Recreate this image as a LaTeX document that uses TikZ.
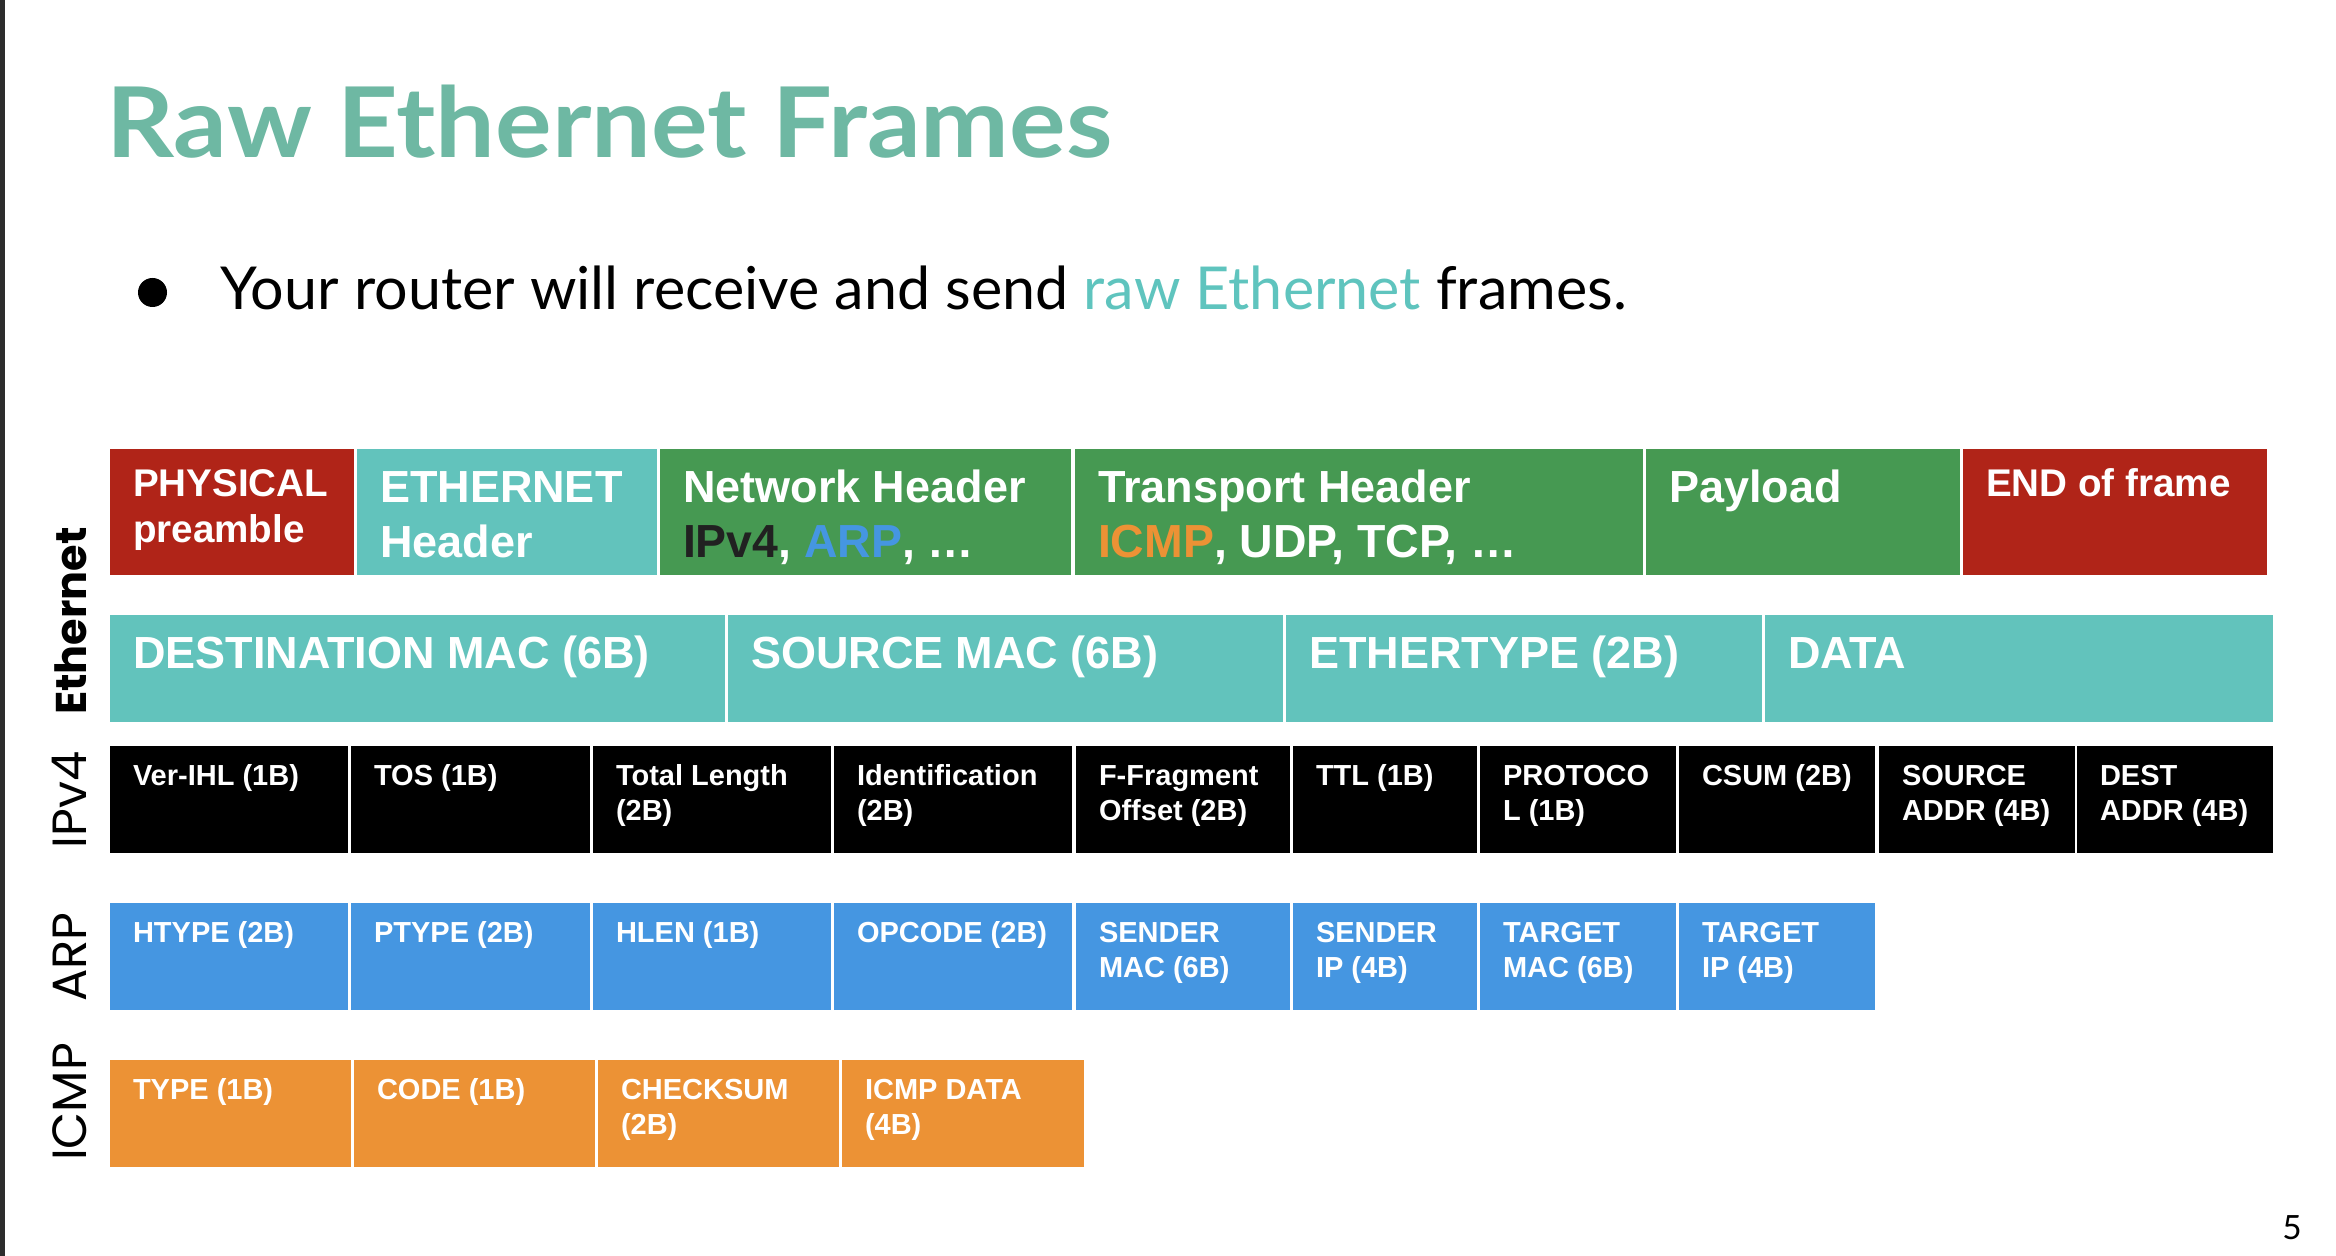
\documentclass[tikz,border=0pt]{standalone}
\usepackage{fontspec}
\setmainfont{Lato}
\newfontfamily\titlefont[FakeStretch=1.085]{Lato}
\newfontfamily\fieldfont{Liberation Sans}
\newfontfamily\sidefont{Poppins}

\definecolor{titleteal}{RGB}{110,184,163}
\definecolor{linkteal}{RGB}{95,196,190}
\definecolor{fred}{RGB}{176,36,24}
\definecolor{fteal}{RGB}{98,195,188}
\definecolor{fgreen}{RGB}{70,153,82}
\definecolor{fblue}{RGB}{69,150,225}
\definecolor{forange}{RGB}{236,146,53}
\definecolor{ipvdark}{RGB}{33,33,33}
\definecolor{edgegray}{RGB}{45,45,45}

% one coloured field of a frame row: name, x1, y1, x2, y2, fill
\newcommand\field[6]{%
  \node[field, fill=#6, minimum width={(#4-#2)*0.5pt}, minimum height={(#5-#3)*0.5pt}] (#1) at (#2,#3) {};}
% its label, set from the top left corner: field name, style, text
\newcommand\ftext[3]{%
  \node[#2] (#1-t) at (#1.north west) {\parbox[t]{300pt}{\raggedright #3}};}
% slightly larger protocol list line
\newcommand\protoline{\fontsize{23.2pt}{27.5pt}\selectfont}

\begin{document}
\begin{tikzpicture}[x=0.5pt, y=-0.5pt,
  field/.style={inner sep=0pt, outer sep=0pt, anchor=north west, draw=none},
  flabel/.style={inner sep=0pt, outer sep=0pt, anchor=base west, text=white, xshift=11.5pt},
  big/.style={flabel, font=\fieldfont\bfseries\fontsize{22.5pt}{27.5pt}\selectfont, yshift=-27pt},
  mid/.style={flabel, font=\fieldfont\bfseries\fontsize{19.3pt}{23pt}\selectfont, yshift=-24pt},
  small/.style={flabel, font=\fieldfont\bfseries\fontsize{14.5pt}{17.5pt}\selectfont, yshift=-19.5pt},
  side/.style={inner sep=0pt, rotate=90, anchor=base, font=\sidefont\fontsize{24pt}{28pt}\selectfont}
]
\useasboundingbox (0,0) rectangle (2336,1256);
\fill[white] (0,0) rectangle (2336,1256);
\fill[edgegray] (0,0) rectangle (5,1256);

% heading and bullet line
\node[inner sep=0pt, anchor=base west, text=titleteal,
      font=\titlefont\bfseries\fontsize{48.8pt}{58pt}\selectfont] (title) at (106,158) {Raw Ethernet Frames};
\node[circle, fill=black, inner sep=0pt, minimum size=14.5pt] (bullet) at (152.5,292.5) {};
\node[inner sep=0pt, anchor=base west, font=\fontsize{29.6pt}{35pt}\selectfont] (point) at (220,310)
  {Your router will receive and send {\color{linkteal}raw Ethernet} frames.};

% layer names along the left edge
\node[side, font=\sidefont\bfseries\fontsize{21.5pt}{26pt}\selectfont] (l-eth) at (86,621) {Ethernet};
\node[side] (l-ip) at (86,800) {IPv4};
\node[side] (l-arp) at (86,957) {ARP};
\node[side] (l-icmp) at (86,1102) {ICMP};

% whole frame
\field{phy}{110}{449}{354}{575}{fred}
\field{ethh}{357}{449}{657}{575}{fteal}
\field{neth}{660}{449}{1071}{575}{fgreen}
\field{trh}{1075}{449}{1643}{575}{fgreen}
\field{pay}{1646}{449}{1960}{575}{fgreen}
\field{eof}{1963}{449}{2267}{575}{fred}
\ftext{phy}{mid}{PHYSICAL\\preamble}
\ftext{ethh}{big}{ETHERNET\\Header}
\ftext{neth}{big}{Network Header\\\protoline{\color{ipvdark}IPv4}, {\color{fblue}ARP}, …}
\ftext{trh}{big}{Transport Header\\\protoline{\color{forange}ICMP}, UDP, TCP, …}
\ftext{pay}{big}{Payload}
\ftext{eof}{mid}{END of frame}

% Ethernet header
\field{dmac}{110}{615}{725}{722}{fteal}
\field{smac}{728}{615}{1283}{722}{fteal}
\field{etype}{1286}{615}{1762}{722}{fteal}
\field{data}{1765}{615}{2273}{722}{fteal}
\ftext{dmac}{big}{DESTINATION MAC (6B)}
\ftext{smac}{big}{SOURCE MAC (6B)}
\ftext{etype}{big}{ETHERTYPE (2B)}
\ftext{data}{big}{DATA}

% IPv4 header
\field{ver}{110}{746}{348}{853}{black}
\field{tos}{351}{746}{590}{853}{black}
\field{tlen}{593}{746}{831}{853}{black}
\field{ident}{834}{746}{1072}{853}{black}
\field{frag}{1076}{746}{1290}{853}{black}
\field{ttl}{1293}{746}{1477}{853}{black}
\field{proto}{1480}{746}{1676}{853}{black}
\field{csum}{1679}{746}{1875}{853}{black}
\field{saddr}{1879}{746}{2075}{853}{black}
\field{daddr}{2077}{746}{2273}{853}{black}
\ftext{ver}{small}{Ver-IHL (1B)}
\ftext{tos}{small}{TOS (1B)}
\ftext{tlen}{small}{Total Length\\(2B)}
\ftext{ident}{small}{Identification\\(2B)}
\ftext{frag}{small}{F-Fragment\\Offset (2B)}
\ftext{ttl}{small}{TTL (1B)}
\ftext{proto}{small}{PROTOCO\\L (1B)}
\ftext{csum}{small}{CSUM (2B)}
\ftext{saddr}{small}{SOURCE\\ADDR (4B)}
\ftext{daddr}{small}{DEST\\ADDR (4B)}

% ARP message
\field{htype}{110}{903}{348}{1010}{fblue}
\field{ptype}{351}{903}{590}{1010}{fblue}
\field{hlen}{593}{903}{831}{1010}{fblue}
\field{opcode}{834}{903}{1072}{1010}{fblue}
\field{smacarp}{1076}{903}{1290}{1010}{fblue}
\field{sip}{1293}{903}{1477}{1010}{fblue}
\field{tmac}{1480}{903}{1676}{1010}{fblue}
\field{tip}{1679}{903}{1875}{1010}{fblue}
\ftext{htype}{small}{HTYPE (2B)}
\ftext{ptype}{small}{PTYPE (2B)}
\ftext{hlen}{small}{HLEN (1B)}
\ftext{opcode}{small}{OPCODE (2B)}
\ftext{smacarp}{small}{SENDER\\MAC (6B)}
\ftext{sip}{small}{SENDER\\IP (4B)}
\ftext{tmac}{small}{TARGET\\MAC (6B)}
\ftext{tip}{small}{TARGET\\IP (4B)}

% ICMP message
\field{itype}{110}{1060}{351}{1167}{forange}
\field{icode}{354}{1060}{595}{1167}{forange}
\field{icsum}{598}{1060}{839}{1167}{forange}
\field{idata}{842}{1060}{1084}{1167}{forange}
\ftext{itype}{small}{TYPE (1B)}
\ftext{icode}{small}{CODE (1B)}
\ftext{icsum}{small}{CHECKSUM\\(2B)}
\ftext{idata}{small}{ICMP DATA\\(4B)}

% slide number
\node[inner sep=0pt, anchor=base, font=\fontsize{16.7pt}{20pt}\selectfont] (pageno) at (2292,1239) {5};
\end{tikzpicture}
\end{document}
